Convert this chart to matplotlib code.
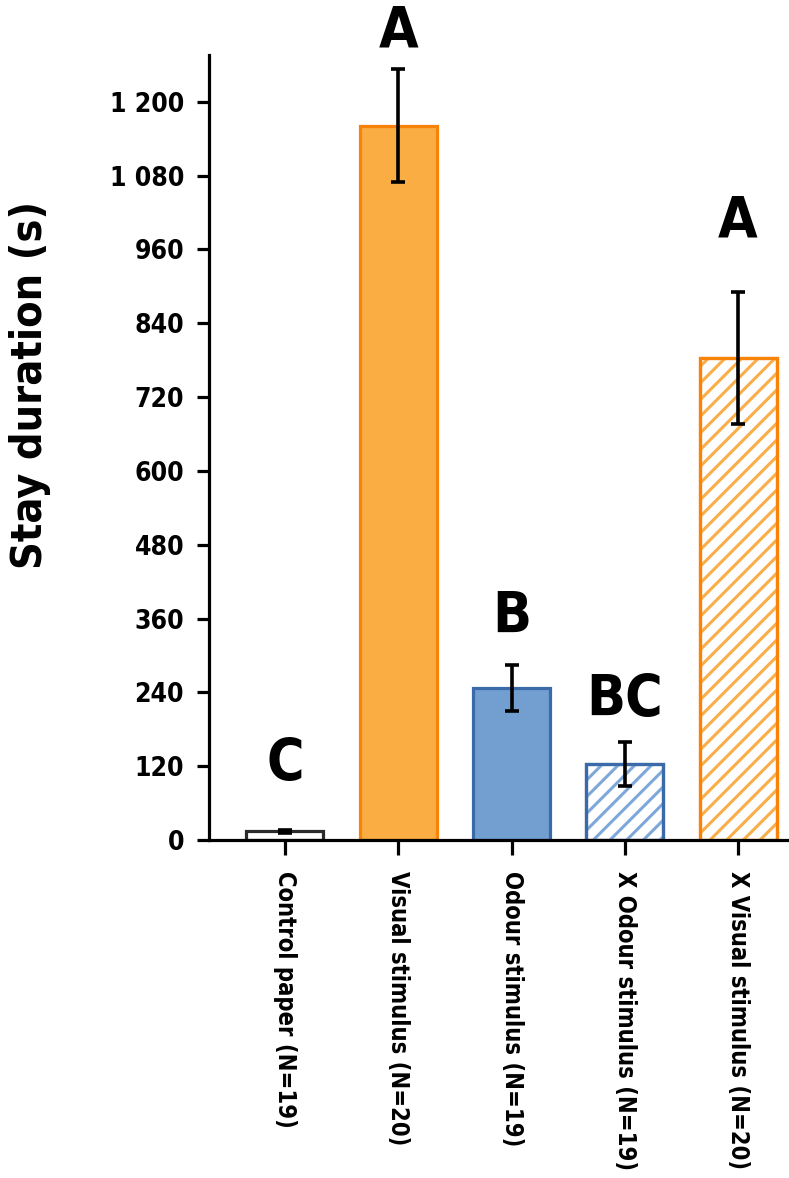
import matplotlib
matplotlib.use("Agg")
import matplotlib.pyplot as plt
from matplotlib import font_manager as fm

# ---------------- data ----------------
categories = ["Control paper (N=19)", "Visual stimulus (N=20)", "Odour stimulus (N=19)",
              "X Odour stimulus (N=19)", "X Visual stimulus (N=20)"]
means = [14, 1161, 247, 124, 784]
errors = [3, 92, 37, 36, 107]
letters = ["C", "A", "B", "BC", "A"]
letter_y = [98, 1288, 337, 202, 979]
yticks = [0, 120, 240, 360, 480, 600, 720, 840, 960, 1080, 1200]
ytick_labels = ["0", "120", "240", "360", "480", "600", "720", "840", "960", "1 080", "1 200"]
ylabel = "Stay duration (s)"

# ---------------- font choice (narrow if available) ----------------
def pick_font():
    entries = fm.fontManager.ttflist
    names = {e.name for e in entries}
    for p in ["Noto Sans ExtraCondensed", "Noto Sans Condensed", "Liberation Sans Narrow",
              "DejaVu Sans Condensed"]:
        if p in names:
            return dict(family=p)
    for fam in ["Noto Sans", "DejaVu Sans", "Open Sans", "Roboto"]:
        for e in entries:
            st = e.stretch
            if e.name == fam and (isinstance(st, str) and "condensed" in st or
                                  (not isinstance(st, str) and st < 500)):
                return dict(family=fam, stretch="condensed")
    return dict(family="DejaVu Sans")

F = pick_font()

fill_colors = ["white", "#f9ad42", "#729fcf", "white", "white"]
edge_colors = ["#2b2b2b", "#f98208", "#3b6aa8", "#3b6aa8", "#f98208"]
hatch_colors = [None, None, None, "#7fa8da", "#f9ae4a"]
hatches = [None, None, None, "//", "//"]

fig = plt.figure(figsize=(7.89, 11.78), dpi=100)
ax = fig.add_axes([0.265, 0.2869, 0.735, 0.6664])

x = list(range(len(categories)))
plt.rcParams["hatch.linewidth"] = 2.2
for i in x:
    ax.bar(i, means[i], width=0.68, color=fill_colors[i], edgecolor=edge_colors[i],
           linewidth=2.3, zorder=2)
    if hatches[i]:
        ax.bar(i, means[i], width=0.68, color="none", edgecolor=hatch_colors[i],
               hatch=hatches[i], linewidth=0, zorder=2.1)
        ax.bar(i, means[i], width=0.68, color="none", edgecolor=edge_colors[i],
               linewidth=2.3, zorder=2.2)

ax.errorbar(x, means, yerr=errors, fmt="none", ecolor="black", elinewidth=2.6,
            capsize=5, capthick=2.6, zorder=3)

for i in x:
    ax.text(i, letter_y[i], letters[i], ha="center", va="baseline", fontsize=41,
            fontweight="bold", clip_on=False, **F)

ax.set_xlim(-0.67, 4.45)
ax.set_ylim(0, 1276)
ax.set_yticks(yticks)
ax.set_yticklabels(ytick_labels)
ax.set_xticks(x)
ax.set_xticklabels(categories, rotation=-90, ha="center", va="top")

for sp in ["top", "right"]:
    ax.spines[sp].set_visible(False)
for sp in ["left", "bottom"]:
    ax.spines[sp].set_linewidth(2.3)

ax.tick_params(axis="y", direction="out", length=9, width=2.3, pad=9)
ax.tick_params(axis="x", direction="out", length=11, width=2.3, pad=11)
for lab in ax.get_yticklabels():
    lab.set_fontsize(19); lab.set_fontweight("bold"); lab.set_fontfamily(F["family"])
    if "stretch" in F: lab.set_fontstretch(F["stretch"])
for lab in ax.get_xticklabels():
    lab.set_fontsize(17); lab.set_fontweight("bold"); lab.set_fontfamily(F["family"])
    if "stretch" in F: lab.set_fontstretch(F["stretch"])

ax.set_ylabel(ylabel, fontsize=31, fontweight="bold", **F)
ax.yaxis.set_label_coords(-0.272, 0.58)

fig.savefig("out.png", dpi=100)
